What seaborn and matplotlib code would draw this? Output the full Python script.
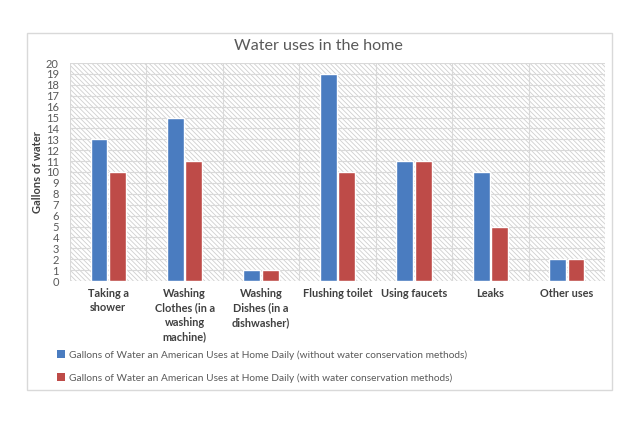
import matplotlib
matplotlib.use("Agg")
import matplotlib.pyplot as plt
import matplotlib.patches as mpatches
import seaborn as sns
import pandas as pd
import numpy as np

categories = ["Taking a\nshower", "Washing\nClothes (in a\nwashing\nmachine)",
              "Washing\nDishes (in a\ndishwasher)", "Flushing toilet",
              "Using faucets", "Leaks", "Other uses"]
without_cons = [13, 15, 1, 19, 11, 10, 2]
with_cons = [10, 11, 1, 10, 11, 5, 2]
series_names = ["Gallons of Water an American Uses at Home Daily (without water conservation methods)",
                "Gallons of Water an American Uses at Home Daily (with water conservation methods)"]
yticks = list(range(0, 21))

df = pd.DataFrame({
    "category": categories * 2,
    "value": without_cons + with_cons,
    "series": [series_names[0]] * len(categories) + [series_names[1]] * len(categories),
})

sns.set_theme(style="white")
FONT = ["Lato", "DejaVu Sans"]
plt.rcParams["font.family"] = FONT
plt.rcParams["hatch.linewidth"] = 0.6
plt.rcParams["hatch.color"] = "#cfcfcf"

fig = plt.figure(figsize=(6.4, 4.21), dpi=100)
fig.patch.set_facecolor("white")
# outer chart border
fig.add_artist(mpatches.Rectangle((27 / 640, 1 - 390 / 421), (612 - 27) / 640, (390 - 33) / 421,
                                  transform=fig.transFigure, fill=False,
                                  edgecolor="#d9d9d9", linewidth=1.0))

ax = fig.add_axes([70 / 640, 1 - 281 / 421, (605 - 70) / 640, (281 - 63) / 421])
ax.set_facecolor("white")
ax.add_patch(mpatches.Rectangle((0, 0), 1, 1, transform=ax.transAxes, facecolor="white",
                                hatch="\\\\\\\\\\\\\\", edgecolor="#cfcfcf", linewidth=0, zorder=0))

palette = ["#4a7cc0", "#be4b48"]
sns.barplot(data=df, x="category", y="value", hue="series", palette=palette,
            width=0.48, gap=0.08, ax=ax, saturation=1, legend=True, zorder=3)

ax.set_xlim(-0.5, len(categories) - 0.5)
ax.set_ylim(0, 20)
ax.set_yticks(yticks)
ax.set_yticklabels([str(t) for t in yticks])
ax.set_xticks(np.arange(-0.5, len(categories)), minor=True)
ax.grid(True, axis="y", which="major", color="#d9d9d9", linewidth=0.8, zorder=1)
ax.grid(True, axis="x", which="minor", color="#d9d9d9", linewidth=0.8, zorder=1)
ax.grid(False, axis="x", which="major")
ax.set_axisbelow(True)
for s in ax.spines.values():
    s.set_visible(False)
ax.tick_params(axis="both", which="both", length=0)
ax.tick_params(axis="y", labelsize=8, labelcolor="#595959", pad=8)
ax.tick_params(axis="x", labelsize=7.9, labelcolor="#404040", pad=5)
for lab in ax.get_xticklabels():
    lab.set_fontweight("bold")
    lab.set_linespacing(1.38)
    lab.set_verticalalignment("top")
ax.set_xlabel("")
ax.set_ylabel("Gallons of water", fontsize=8, fontweight="bold", color="#404040")
ax.yaxis.set_label_coords(-27 / 535, 0.5)

fig.text(318 / 640, 1 - 46 / 421, "Water uses in the home", ha="center", va="center",
         fontsize=11.6, color="#595959")

ax.get_legend().remove()
handles = [mpatches.Patch(facecolor=c, edgecolor="none") for c in palette]
leg = fig.legend(handles, series_names, loc="upper left",
                 bbox_to_anchor=(57 / 640, 1 - 350 / 421), frameon=False,
                 fontsize=7.3, labelcolor="#595959", handlelength=0.8, handleheight=0.8,
                 handletextpad=0.4, labelspacing=1.35, borderaxespad=0, borderpad=0)

fig.savefig("out.png", dpi=100, facecolor="white")
